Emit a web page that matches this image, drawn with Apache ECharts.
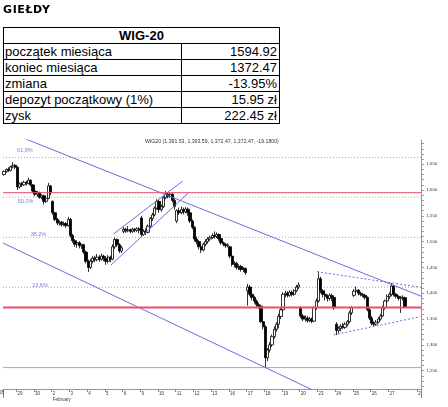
<!DOCTYPE html>
<html><head><meta charset="utf-8">
<script src="https://cdn.jsdelivr.net/npm/echarts@6/dist/echarts.min.js"></script>
<style>
html,body{margin:0;padding:0;background:#fff;width:448px;height:407px;overflow:hidden;}
#chart{position:absolute;left:0;top:0;width:448px;height:407px;}
#head{position:absolute;left:3px;top:3px;font:bold 11px 'DejaVu Sans',sans-serif;letter-spacing:0.6px;color:#000;z-index:2;}
table{position:absolute;left:3px;top:27px;width:277px;border-collapse:collapse;font:13px 'Liberation Sans',Arial,sans-serif;color:#000;z-index:2;background:#fff;}
td{border:1px solid #000;height:15px;padding:0 1px;line-height:15px;white-space:nowrap;}
td.v{text-align:right;padding-right:2px;}
td.h{text-align:center;font-weight:bold;}
</style></head>
<body>
<div id="chart"></div>
<div id="head">GIEŁDY</div>
<table>
<tr><td class="h" colspan="2">WIG-20</td></tr>
<tr><td style="width:175px">początek miesiąca</td><td class="v">1594.92</td></tr>
<tr><td>koniec miesiąca</td><td class="v">1372.47</td></tr>
<tr><td>zmiana</td><td class="v">-13.95%</td></tr>
<tr><td>depozyt początkowy (1%)</td><td class="v">15.95 zł</td></tr>
<tr><td>zysk</td><td class="v">222.45 zł</td></tr>
</table>
<script>
// ---- data ----
const days = ['28','29','30','2','3','4','5','6','9','10','11','12','13','16','17','18','19','20','23','24','25','26','27'];
const barsPerDay = [6,8,8,8,8,8,8,8,8,8,8,8,8,8,8,8,8,8,8,8,8,8,8];
const openP = [
1630,1636,1640,1638,1645,1648,
1644,1606,1612,1610,1615,1613,1619,1610,
1598,1592,1595,1586,1589,1578,1584,1608,
1578,1556,1543,1536,1538,1533,1535,1531,
1543,1512,1502,1495,1498,1492,1494,1480,
1462,1450,1462,1468,1465,1470,1466,1472,
1468,1462,1470,1466,1490,1504,1494,1482,
1520,1524,1521,1523,1520,1524,1522,1525,
1546,1514,1520,1518,1530,1545,1552,1565,
1578,1562,1568,1585,1592,1588,1592,1580,
1540,1560,1556,1562,1558,1563,1556,1540,
1528,1505,1500,1490,1484,1495,1500,1505,
1508,1512,1510,1514,1506,1498,1495,1492,
1490,1472,1456,1458,1450,1452,1446,1448,
1405,1412,1398,1392,1385,1378,1375,1345,
1335,1275,1290,1300,1316,1330,1340,1355,
1368,1398,1400,1396,1402,1398,1405,1412,
1372,1356,1350,1352,1347,1350,1346,1372,
1385,1428,1405,1398,1394,1390,1396,1392,
1340,1328,1332,1336,1334,1340,1345,1362,
1396,1404,1406,1400,1398,1396,1392,1368,
1352,1342,1340,1344,1350,1356,1372,1385,
1394,1398,1414,1398,1394,1390,1392,1391.53];
const closeP = [
1636,1640,1638,1645,1648,1644,
1606,1612,1610,1615,1613,1619,1610,1598,
1592,1595,1586,1589,1578,1584,1608,1594.92,
1556,1543,1536,1538,1533,1535,1531,1543,
1512,1502,1495,1498,1492,1494,1480,1462,
1450,1462,1468,1465,1470,1466,1472,1468,
1462,1470,1466,1490,1504,1494,1482,1488,
1524,1521,1523,1520,1524,1522,1525,1522,
1514,1520,1518,1530,1545,1552,1565,1578,
1562,1568,1585,1592,1588,1592,1580,1568,
1560,1556,1562,1558,1563,1556,1540,1528,
1505,1500,1490,1484,1495,1500,1505,1508,
1512,1510,1514,1506,1498,1495,1492,1494,
1472,1456,1458,1450,1452,1446,1448,1440,
1412,1398,1392,1385,1378,1375,1345,1335,
1275,1290,1300,1316,1330,1340,1355,1368,
1398,1400,1396,1402,1398,1405,1412,1416,
1356,1350,1352,1347,1350,1346,1372,1385,
1428,1405,1398,1394,1390,1396,1392,1372,
1328,1332,1336,1334,1340,1345,1362,1372,
1404,1406,1400,1398,1396,1392,1368,1352,
1342,1340,1344,1350,1356,1372,1385,1394,
1398,1414,1398,1394,1390,1392,1391.65,1372.47];
const lowP = [
1628,1633,1635,1636,1642,1640,
1600,1603,1606,1608,1609,1611,1607,1594,
1588,1587,1583,1582,1572,1575,1582,1590,
1552,1540,1532,1531,1529,1530,1527,1529,
1508,1498,1490,1488,1487,1486,1476,1458,
1441,1447,1458,1460,1462,1461,1463,1462,
1455,1458,1460,1464,1486,1490,1478,1478,
1516,1517,1518,1516,1517,1518,1519,1516,
1510,1511,1513,1516,1527,1540,1549,1562,
1556,1558,1565,1582,1584,1585,1576,1562,
1536,1552,1553,1553,1555,1550,1536,1524,
1500,1495,1485,1478,1481,1491,1496,1501,
1505,1506,1507,1502,1494,1491,1488,1489,
1468,1452,1450,1446,1445,1442,1441,1436,
1376,1394,1386,1380,1372,1370,1342,1330,
1256,1268,1285,1296,1312,1326,1332,1350,
1365,1392,1392,1393,1394,1395,1402,1408,
1352,1346,1345,1343,1344,1342,1344,1368,
1382,1400,1392,1386,1384,1386,1385,1368,
1319,1322,1326,1330,1331,1336,1342,1358,
1393,1400,1396,1394,1392,1388,1365,1348,
1338,1335,1337,1342,1347,1354,1368,1382,
1389,1394,1394,1390,1386,1362,1386,1372.47];
const highP = [
1638,1642,1644,1647,1654,1650,
1646,1615,1616,1618,1618,1624,1621,1612,
1602,1598,1597,1592,1591,1587,1614,1610,
1580,1558,1546,1541,1540,1539,1538,1548,
1546,1515,1505,1500,1501,1496,1496,1483,
1465,1466,1472,1473,1476,1474,1477,1475,
1472,1474,1473,1495,1508,1506,1497,1492,
1528,1527,1530,1525,1527,1526,1528,1528,
1550,1524,1526,1533,1548,1556,1568,1582,
1582,1572,1588,1598,1596,1595,1594,1583,
1563,1566,1568,1566,1567,1566,1558,1543,
1530,1510,1503,1493,1498,1505,1509,1512,
1516,1520,1518,1516,1508,1500,1497,1497,
1492,1475,1462,1461,1456,1455,1451,1450,
1418,1416,1402,1395,1388,1382,1378,1348,
1338,1294,1305,1320,1336,1344,1360,1372,
1402,1405,1404,1406,1405,1408,1416,1421,
1375,1360,1357,1356,1354,1353,1375,1390,
1442,1432,1408,1402,1398,1400,1399,1396,
1344,1336,1340,1342,1344,1348,1366,1375,
1408,1413,1408,1403,1401,1399,1394,1371,
1356,1346,1348,1354,1360,1376,1388,1398,
1402,1420,1416,1401,1396,1395,1396,1393.59];
const yTickLabels = [1250,1300,1350,1400,1450,1500,1550,1600,1650];
const yMinorTicks = [1220,1230,1240,1250,1260,1270,1280,1290,1300,1310,1320,1330,1340,1350,1360,1370,1380,1390,1400,1410,1420,1430,1440,1450,1460,1470,1480,1490,1500,1510,1520,1530,1540,1550,1560,1570,1580,1590,1600,1610,1620,1630,1640,1650,1660,1670,1680,1690];
const monthStart = 1594.92, monthEnd = 1372.47;
const fibLevels = [1663.0, 1586.3, 1508.5, 1411.6];
const fibNames = ['61,8%','50,0%','38,2%','23,6%'];
const fibLabelPos = [[9.9,1675.8],[10.2,1578],[16.0,1514],[16.7,1416]];
const fibZero = 1256;
// trend lines in (bar position, price)
const trendDownUpper = [[0,1716.4],[189,1394.0]];
const trendDownLower = [[0,1497.3],[150,1191.9]];
const riseUpper = [[49.9,1514.9],[81.2,1617.6]];
const riseLower = [[48.8,1454.8],[83.8,1594.8]];
const triUpper = [[141.8,1441.9],[188.5,1411.6]];
const triLower = [[149.3,1319.2],[188.5,1354.7]];
const chartTitle = 'WIG20 (1,391.53, 1,393.59, 1,372.47, 1,372.47, -19.1800)';
const emptyBars = 7, marchLabel = '2';

// ---- build ----
const cats = []; const labelAt = {};
days.forEach((d, i) => {
  for (let k = 0; k < barsPerDay[i]; k++) {
    if (k === 0 && i > 0) labelAt[cats.length] = (d === '2' ? '2\nFebruary' : d);
    cats.push(d + '-' + k);
  }
});
for (let k = 0; k < emptyBars; k++) cats.push('m' + k);
labelAt[cats.length - 2] = marchLabel;
const feb2Index = barsPerDay.slice(0, 3).reduce((a, b) => a + b, 0);

const candles = openP.map((o, i) => [o, closeP[i], lowP[i], highP[i]]);
const blue = '#6b6bdb';
function tl(data, type) {
  return { type: 'line', xAxisIndex: 2, data: data, symbol: 'none', silent: true, clip: true, z: 5,
    lineStyle: { color: blue, width: 1, type: type || 'solid' } };
}
function hline(v, color, type, z, zlevel, width) {
  return { type: 'line', xAxisIndex: 2, data: [[0, v], [cats.length, v]], symbol: 'none', silent: true, clip: true,
    z: z, zlevel: zlevel || 0,
    itemStyle: { color: color },
    lineStyle: { color: color, width: width || 1, type: type } };
}
const chart = echarts.init(document.getElementById('chart'));
chart.setOption({
  animation: false,
  title: { text: chartTitle, left: 145, top: 139, padding: 0,
    textStyle: { fontSize: 5.2, fontWeight: 'normal', color: '#333', fontFamily: 'Liberation Sans' } },
  grid: { left: 3, top: 140, width: 418.5, height: 249, containLabel: false, outerBoundsMode: 'none' },
  xAxis: [
    { type: 'category', data: cats, boundaryGap: true,
      axisLine: { onZero: false, lineStyle: { color: '#999', width: 1 } },
      axisTick: { show: true, length: 3, interval: (i) => labelAt[i] !== undefined, lineStyle: { color: '#888' } },
      axisLabel: { interval: (i) => labelAt[i] !== undefined, formatter: (v, i) => labelAt[i], align: 'left',
        fontSize: 4.5, margin: 1.5, color: '#333', lineHeight: 6, fontFamily: 'Liberation Sans' },
      splitLine: { show: false } },
    { type: 'category', data: cats, boundaryGap: true, position: 'bottom',
      axisLine: { show: false, onZero: false },
      axisTick: { show: true, length: 9, interval: (i) => i === feb2Index, lineStyle: { color: '#888' } },
      axisLabel: { interval: (i) => i === 0, formatter: () => days[0], align: 'right',
        fontSize: 4.5, margin: 1.5, color: '#333', fontFamily: 'Liberation Sans' },
      splitLine: { show: false } },
    { type: 'value', min: 0, max: cats.length, show: false }
  ],
  yAxis: { type: 'value', position: 'right', min: 1214.5, max: 1697, scale: true,
    splitLine: { show: false },
    axisLine: { show: true, onZero: false, lineStyle: { color: '#999' } },
    axisTick: { show: true, length: 2.5, customValues: yMinorTicks, lineStyle: { color: '#999' } },
    axisLabel: { customValues: yTickLabels, fontSize: 4.3, margin: 5, color: '#333', fontFamily: 'Liberation Sans' } },
  series: [
    hline(fibLevels[0], '#aaaaaa', [1, 2], 1),
    hline(fibLevels[1], '#aaaaaa', [1, 2], 1),
    hline(fibLevels[2], '#aaaaaa', [1, 2], 1),
    hline(fibLevels[3], '#aaaaaa', [1, 2], 1),
    hline(fibZero, '#aaaaaa', 'solid', 1),
    { type: 'candlestick', xAxisIndex: 0, data: candles, barWidth: 2.8, z: 3,
      itemStyle: { color: '#ffffff', color0: '#000000', borderColor: '#000000', borderColor0: '#000000', borderWidth: 0.8 } },
    hline(monthStart, '#ec4d6b', 'solid', 4, 1, 1),
    hline(monthEnd, '#ec4d6b', 'solid', 4, 1, 2),
    tl(trendDownUpper), tl(trendDownLower), tl(riseUpper), tl(riseLower),
    tl(triUpper, [2, 2]), tl(triLower, [2, 2]),
    { type: 'scatter', xAxisIndex: 2, symbolSize: 0, silent: true, z: 6,
      data: fibLabelPos.map((p, i) => [p[0], p[1], fibNames[i]]),
      label: { show: true, position: 'inside', formatter: (p) => p.data[2], fontSize: 5.5, color: '#5a5acd', fontFamily: 'Liberation Sans' } }
  ]
});
</script>
</body></html>
